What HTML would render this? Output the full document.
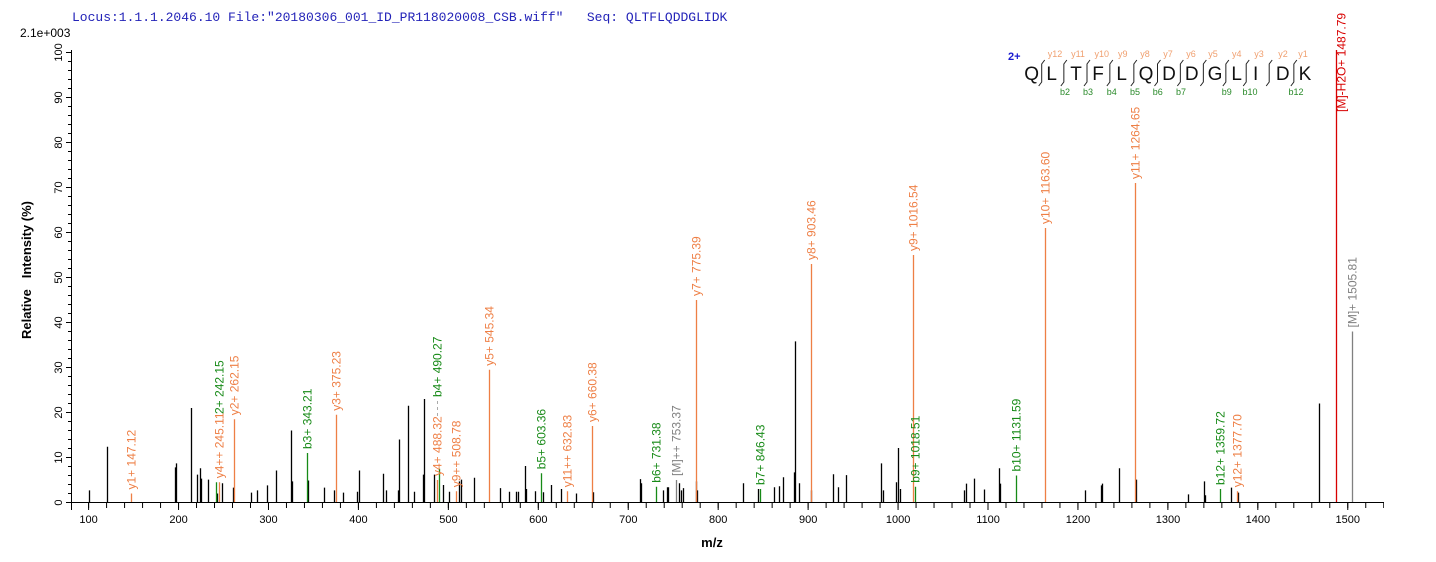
<!DOCTYPE html>
<html><head><meta charset="utf-8"><style>
html,body{margin:0;padding:0;background:#fff;}
svg{display:block;font-family:"Liberation Sans",Arial,sans-serif;}
</style></head><body>
<svg width="1436" height="562" viewBox="0 0 1436 562" xmlns="http://www.w3.org/2000/svg">
<defs>
<pattern id="xmin" patternUnits="userSpaceOnUse" x="88.1" y="0" width="17.988" height="600"><rect x="0" y="0" width="1" height="600" fill="#000"/></pattern>
<pattern id="xmaj" patternUnits="userSpaceOnUse" x="88.1" y="0" width="89.94" height="600"><rect x="0" y="0" width="1" height="600" fill="#000"/></pattern>
<pattern id="ymin" patternUnits="userSpaceOnUse" x="0" y="52" width="600" height="9"><rect x="0" y="0" width="600" height="1" fill="#000"/></pattern>
<pattern id="ymaj" patternUnits="userSpaceOnUse" x="0" y="52" width="600" height="45"><rect x="0" y="0" width="600" height="1" fill="#000"/></pattern>
</defs>
<text x="72" y="21" font-family="Liberation Mono,monospace" font-size="13" fill="#2323b8" xml:space="preserve">Locus:1.1.1.2046.10 File:"20180306_001_ID_PR118020008_CSB.wiff"   Seq: QLTFLQDDGLIDK</text>
<text x="20" y="37" font-size="12" fill="#000">2.1e+003</text>
<text transform="translate(31,270) rotate(-90)" text-anchor="middle" font-size="13" font-weight="bold" xml:space="preserve">Relative   Intensity (%)</text>
<text x="712" y="547" text-anchor="middle" font-size="13" font-weight="bold">m/z</text>

<rect x="71" y="50" width="1" height="460" fill="#000"/>
<rect x="66" y="502" width="1318" height="1" fill="#000"/>
<rect x="72" y="503" width="1312" height="5" fill="url(#xmin)"/>
<rect x="72" y="503" width="1312" height="7" fill="url(#xmaj)"/>
<rect x="68" y="52" width="3" height="452" fill="url(#ymin)"/>
<rect x="66" y="52" width="5" height="452" fill="url(#ymaj)"/>

<g font-size="11" fill="#000" text-anchor="middle">
<text x="88.6" y="523">100</text><text x="178.6" y="523">200</text><text x="268.5" y="523">300</text><text x="358.4" y="523">400</text><text x="448.4" y="523">500</text><text x="538.3" y="523">600</text><text x="628.3" y="523">700</text><text x="718.2" y="523">800</text><text x="808.2" y="523">900</text><text x="898.1" y="523">1000</text><text x="988.1" y="523">1100</text><text x="1078" y="523">1200</text><text x="1168" y="523">1300</text><text x="1257.9" y="523">1400</text><text x="1347.8" y="523">1500</text>
<text transform="translate(62,502.5) rotate(-90)">0</text>
<text transform="translate(62,457.5) rotate(-90)">10</text>
<text transform="translate(62,412.5) rotate(-90)">20</text>
<text transform="translate(62,367.5) rotate(-90)">30</text>
<text transform="translate(62,322.5) rotate(-90)">40</text>
<text transform="translate(62,277.5) rotate(-90)">50</text>
<text transform="translate(62,232.5) rotate(-90)">60</text>
<text transform="translate(62,187.5) rotate(-90)">70</text>
<text transform="translate(62,142.5) rotate(-90)">80</text>
<text transform="translate(62,97.5) rotate(-90)">90</text>
<text transform="translate(62,52.5) rotate(-90)">100</text>
</g>

<path stroke="#000" stroke-width="1.3" fill="none" d="M89.5 502V490.4M107.5 502V446.7M175.5 502V467.4M176.5 502V463.4M191.5 502V408M197.5 502V474.6M200.5 502V468.3M201.5 502V478.6M208.5 502V479.6M217.5 502V493.5M222.5 502V483.2M233.5 502V487.6M251.5 502V492.6M257.5 502V490.4M267.5 502V485.4M276.5 502V470.5M291.5 502V430.5M292.5 502V481.4M308.5 502V480.5M324.5 502V487.6M334.5 502V490.4M343.5 502V492.6M357.5 502V491.7M359.5 502V470.5M383.5 502V473.7M386.5 502V490.4M398.5 502V490.4M399.5 502V439.5M408.5 502V405.8M414.5 502V491.7M423.5 502V474.6M424.5 502V399M434.5 502V474.6M443.5 502V485M449.5 502V491.7M459.5 502V481.4M461.5 502V479.6M474.5 502V477.8M500.5 502V488.1M509.5 502V491.7M516.5 502V491.7M518.5 502V491.7M525.5 502V466M526.5 502V489M535.5 502V491.3M543.5 502V492.2M551.5 502V485M561.5 502V489M576.5 502V493.5M593.5 502V492.2M640.5 502V479.1M641.5 502V483.2M663.5 502V490.4M667.5 502V487.2M668.5 502V487.2M679.5 502V483.2M681.5 502V490.4M683.5 502V488.1M696.5 502V481.4M697.5 502V490.4M743.5 502V483.2M758.5 502V489M774.5 502V487.2M779.5 502V486.3M783.5 502V477.3M794.5 502V472.4M795.5 502V341.4M799.5 502V483.2M811.5 502V490.4M833.5 502V474.2M838.5 502V487.2M846.5 502V475.1M881.5 502V463.4M883.5 502V490.4M896.5 502V482.3M898.5 502V448M900.5 502V489M964.5 502V490.4M966.5 502V483.6M974.5 502V478.6M984.5 502V489.5M999.5 502V468.3M1000.5 502V483.6M1085.5 502V490.4M1101.5 502V485.4M1102.5 502V483.6M1119.5 502V468.3M1136.5 502V479.6M1188.5 502V494.4M1204.5 502V481.4M1205.5 502V495.3M1231.5 502V487.6M1238.5 502V492.6M1319.5 502V403.5"/>

<g stroke-width="1.3" fill="none">
<path stroke="#ee7f45" d="M131.5 502V493.5M219.5 502V482.3M234.5 502V419.3M336.5 502V414.8M437.5 502V480M456.5 502V491.3M489.5 502V369.8M567.5 502V491.3M592.5 502V426M696.5 502V300M811.5 502V264M913.5 502V255M1045.5 502V228M1135.5 502V183M1237.5 502V491.3"/>
<path stroke="#178a17" d="M216.5 502V482.3M307.5 502V453M439.5 502V468.8M541.5 502V473.3M656.5 502V486.8M760.5 502V489M915.5 502V486.8M1016.5 502V475.5M1220.5 502V489"/>
<path stroke="#808080" d="M676.5 502V480M1352.5 502V331.5"/>
<path stroke="#d80000" d="M1336.5 502V50"/>
</g>

<g font-size="12">
<g fill="#ee7f45">
<text transform="translate(135.5,489.5) rotate(-90)">y1+ 147.12</text>
<text transform="translate(223.5,478.3) rotate(-90)">y4++ 245.11</text>
<text transform="translate(238.5,415.3) rotate(-90)">y2+ 262.15</text>
<text transform="translate(340.5,410.8) rotate(-90)">y3+ 375.23</text>
<text transform="translate(441.5,476) rotate(-90)">y4+ 488.32</text>
<text transform="translate(460.5,487.3) rotate(-90)">y9++ 508.78</text>
<text transform="translate(493.5,365.8) rotate(-90)">y5+ 545.34</text>
<text transform="translate(571.5,487.3) rotate(-90)">y11++ 632.83</text>
<text transform="translate(596.5,422) rotate(-90)">y6+ 660.38</text>
<text transform="translate(700.5,296) rotate(-90)">y7+ 775.39</text>
<text transform="translate(815.5,260) rotate(-90)">y8+ 903.46</text>
<text transform="translate(917.5,251) rotate(-90)">y9+ 1016.54</text>
<text transform="translate(1049.5,224) rotate(-90)">y10+ 1163.60</text>
<text transform="translate(1139.5,179) rotate(-90)">y11+ 1264.65</text>
<text transform="translate(1241.5,487.3) rotate(-90)">y12+ 1377.70</text>
</g>
<g fill="#178a17">
<text transform="translate(223.5,414) rotate(-90)">2+ 242.15</text>
<text transform="translate(311.5,449) rotate(-90)">b3+ 343.21</text>
<text transform="translate(441.5,397) rotate(-90)">b4+ 490.27</text>
<text transform="translate(545.5,469.3) rotate(-90)">b5+ 603.36</text>
<text transform="translate(660.5,482.8) rotate(-90)">b6+ 731.38</text>
<text transform="translate(764.5,485) rotate(-90)">b7+ 846.43</text>
<text transform="translate(919.5,482.8) rotate(-90)">b9+ 1018.51</text>
<text transform="translate(1020.5,471.5) rotate(-90)">b10+ 1131.59</text>
<text transform="translate(1224.5,485) rotate(-90)">b12+ 1359.72</text>
</g>
<path stroke="#aaa" stroke-width="1" stroke-dasharray="3,3" d="M437.5 416V399"/>
<g fill="#808080">
<text transform="translate(680.5,476) rotate(-90)">[M]++ 753.37</text>
<text transform="translate(1356.5,327.5) rotate(-90)">[M]+ 1505.81</text>
</g>
<text fill="#d80000" transform="translate(1345.5,112) rotate(-90)">[M]-H2O+ 1487.79</text>
</g>

<text x="1008" y="60" font-size="11" font-weight="bold" fill="#1a1ad0">2+</text>
<g font-size="19" fill="#111" text-anchor="middle">
<text x="1031.7" y="80">Q</text><text x="1051.7" y="80">L</text><text x="1076" y="80">T</text><text x="1098" y="80">F</text><text x="1121.7" y="80">L</text><text x="1146" y="80">Q</text><text x="1169" y="80">D</text><text x="1191.7" y="80">D</text><text x="1215" y="80">G</text><text x="1236.7" y="80">L</text><text x="1255.7" y="80">I</text><text x="1282.7" y="80">D</text><text x="1305" y="80">K</text>
</g>
<g font-size="9" fill="#f0a070" text-anchor="middle">
<text x="1055" y="57">y12</text><text x="1078" y="57">y11</text><text x="1101.7" y="57">y10</text><text x="1122.7" y="57">y9</text><text x="1145" y="57">y8</text><text x="1168" y="57">y7</text><text x="1191" y="57">y6</text><text x="1213" y="57">y5</text><text x="1236.7" y="57">y4</text><text x="1259" y="57">y3</text><text x="1283" y="57">y2</text><text x="1303" y="57">y1</text>
</g>
<g font-size="9" fill="#2a8a2a" text-anchor="middle">
<text x="1065" y="95">b2</text><text x="1088" y="95">b3</text><text x="1111.7" y="95">b4</text><text x="1135" y="95">b5</text><text x="1157.7" y="95">b6</text><text x="1181" y="95">b7</text><text x="1226.7" y="95">b9</text><text x="1250" y="95">b10</text><text x="1296" y="95">b12</text>
</g>
<path stroke="#222" stroke-width="1" fill="none" d="M1044.7 60L1041.7 64V82L1038.7 86M1066.85 60L1063.85 64V82L1060.85 86M1090 60L1087 64V82L1084 86M1112.85 60L1109.85 64V82L1106.85 86M1136.85 60L1133.85 64V82L1130.85 86M1160.5 60L1157.5 64V82L1154.5 86M1183.35 60L1180.35 64V82L1177.35 86M1206.35 60L1203.35 64V82L1200.35 86M1228.85 60L1225.85 64V82L1222.85 86M1249.2 60L1246.2 64V82L1243.2 86M1272.2 60L1269.2 64V82L1266.2 86M1296.85 60L1293.85 64V82L1290.85 86"/>
</svg>
</body></html>
